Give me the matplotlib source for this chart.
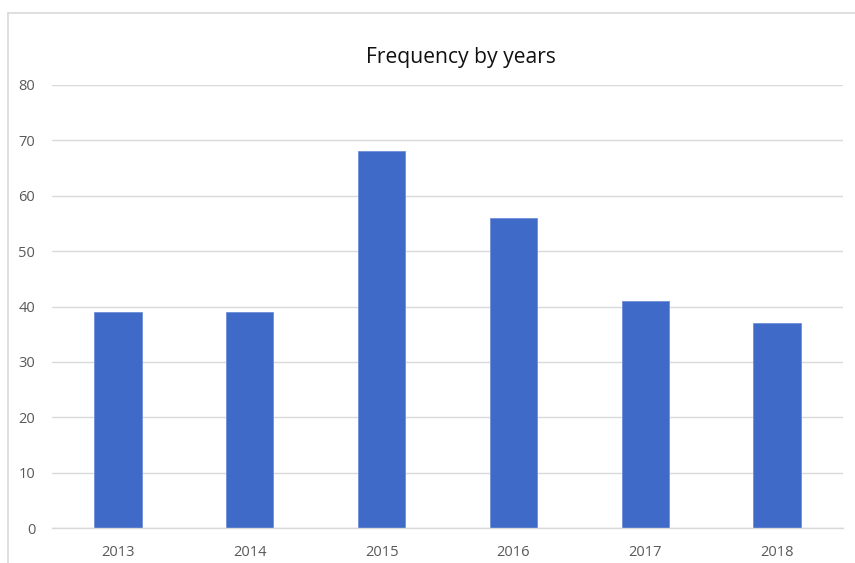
import matplotlib
matplotlib.use("Agg")
import matplotlib.pyplot as plt
from matplotlib.lines import Line2D

years = ["2013", "2014", "2015", "2016", "2017", "2018"]
frequency = [39, 39, 68, 56, 41, 37]
y_ticks = [0, 10, 20, 30, 40, 50, 60, 70, 80]

W, H = 855, 563
fig = plt.figure(figsize=(W / 100, H / 100), dpi=100)
fig.patch.set_facecolor("white")

# chart frame (light border, top and left visible)
fig.add_artist(Line2D([8 / W, 8 / W], [0, 1 - 12.5 / H], color="#D9D9D9", lw=1.2))
fig.add_artist(Line2D([8 / W, 1], [1 - 12.5 / H, 1 - 12.5 / H], color="#D9D9D9", lw=1.2))

left, right = 52 / W, 843 / W
bottom, top = (H - 528) / H, (H - 85) / H
ax = fig.add_axes([left, bottom, right - left, top - bottom])

x = range(len(years))
ax.bar(x, frequency, width=0.36, color="#3F6AC8", edgecolor="#6F8FD8", linewidth=0.6, zorder=3)

ax.set_xlim(-0.5, len(years) - 0.5)
ax.set_ylim(0, 80)
ax.set_yticks(y_ticks)
ax.set_xticks(list(x))
ax.set_xticklabels(years)
ax.yaxis.grid(True, color="#D9D9D9", lw=1.0, zorder=0)
ax.xaxis.grid(False)
for s in ["top", "right", "left"]:
    ax.spines[s].set_visible(False)
ax.spines["bottom"].set_color("#D9D9D9")
ax.spines["bottom"].set_linewidth(1.0)
ax.spines["bottom"].set_zorder(4)
ax.tick_params(axis="both", length=0, colors="#595959", labelsize=10.5)
ax.tick_params(axis="y", pad=12)
ax.tick_params(axis="x", pad=12)
for lbl in ax.get_xticklabels() + ax.get_yticklabels():
    lbl.set_family(["Open Sans", "DejaVu Sans"])

fig.text(461 / W, 1 - 57 / H, "Frequency by years", ha="center", va="center",
         fontsize=15.2, color="#111111", family=["Open Sans", "DejaVu Sans"])

fig.savefig("out.png", dpi=100, facecolor="white")
